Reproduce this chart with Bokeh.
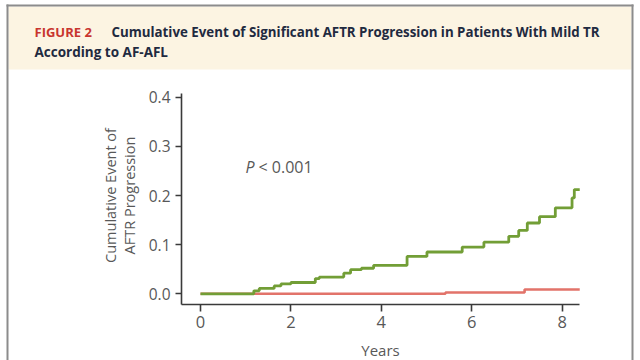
import math
from bokeh.plotting import figure
from bokeh.models import Range1d, FixedTicker, Label, BoxAnnotation
from bokeh.embed import file_html
from bokeh.resources import INLINE

# ---- data ----
green_years = [0, 1.18, 1.30, 1.63, 1.78, 2.00, 2.54, 2.63, 3.17, 3.32, 3.56, 3.83,
               4.57, 5.01, 5.79, 6.27, 6.82, 7.04, 7.23, 7.50, 7.85, 8.22, 8.27, 8.39]
green_cum = [0, 0.006, 0.011, 0.016, 0.020, 0.023, 0.031, 0.034, 0.042, 0.049, 0.052, 0.058,
             0.076, 0.085, 0.095, 0.105, 0.117, 0.129, 0.144, 0.157, 0.175, 0.195, 0.212, 0.212]
red_years = [0, 5.42, 7.17, 8.39]
red_cum = [0, 0.0026, 0.0087, 0.0087]
x_ticks = [0, 2, 4, 6, 8]
y_ticks = [0.0, 0.1, 0.2, 0.3, 0.4]
y_tick_labels = ["0.0", "0.1", "0.2", "0.3", "0.4"]

# ---- layout helpers (canvas pixel -> data) ----
W, H = 640, 360
X0, XS = 200.0, 45.2
Y0, YS = 293.3, 491.5
def dx(px):
    return (px - X0) / XS
def dy(py):
    return (Y0 - py) / YS

AX_LEFT, AX_RIGHT, AX_TOP, AX_BOT = 181, 579, 93, 304

p = figure(width=W, height=H, output_backend="svg", toolbar_location=None,
           x_range=Range1d(dx(0), dx(W)), y_range=Range1d(dy(H), dy(0)),
           min_border_left=0, min_border_right=0, min_border_top=0, min_border_bottom=0)
p.outline_line_color = None
p.background_fill_color = "white"
p.border_fill_color = "white"
p.xgrid.visible = False
p.ygrid.visible = False

TXT = "#585858"
AX = "#3a3a3a"
for ax in (p.xaxis[0], p.yaxis[0]):
    ax.axis_line_color = AX
    ax.axis_line_width = 1.6
    ax.major_tick_line_color = AX
    ax.major_tick_line_width = 1.6
    ax.major_tick_in = 0
    ax.minor_tick_line_color = None
    ax.major_label_text_font = "Open Sans"
    ax.major_label_text_color = TXT
p.xaxis.fixed_location = dy(AX_BOT)
p.xaxis.bounds = (dx(AX_LEFT), dx(AX_RIGHT))
p.xaxis.ticker = FixedTicker(ticks=x_ticks)
p.xaxis.major_tick_out = 7
p.xaxis.major_label_standoff = 4
p.xaxis.major_label_text_font_size = "16.5px"
p.yaxis.fixed_location = dx(AX_LEFT)
p.yaxis.bounds = (dy(AX_BOT), dy(AX_TOP))
p.yaxis.ticker = FixedTicker(ticks=y_ticks)
p.yaxis.major_label_overrides = {t: s for t, s in zip(y_ticks, y_tick_labels)}
p.yaxis.major_tick_out = 6
p.yaxis.major_label_standoff = 5
p.yaxis.major_label_text_font_size = "15.5px"

# ---- header band and frame borders ----
BORDER = "#8c8c8c"
p.add_layout(BoxAnnotation(left=dx(8), right=dx(631), top=dy(6), bottom=dy(69),
                           fill_color="#fcf4e2", fill_alpha=1, line_color=None, level="underlay"))
p.add_layout(BoxAnnotation(left=dx(6), right=dx(8), top=dy(4), bottom=dy(H + 2),
                           fill_color=BORDER, fill_alpha=1, line_color=None))
p.add_layout(BoxAnnotation(left=dx(631), right=dx(633), top=dy(4), bottom=dy(H + 2),
                           fill_color=BORDER, fill_alpha=1, line_color=None))
p.add_layout(BoxAnnotation(left=dx(6), right=dx(633), top=dy(4), bottom=dy(6),
                           fill_color=BORDER, fill_alpha=1, line_color=None))

# ---- curves ----
p.step(red_years, red_cum, mode="after", line_color="#e2736a", line_width=2.6)
p.step(green_years, green_cum, mode="after", line_color="#729e36", line_width=2.8)

# ---- texts ----
HEAD = "#1f2a40"
p.add_layout(Label(x=dx(34), y=dy(31.7), text="FIGURE 2", text_font="Open Sans",
                   text_font_style="bold", text_font_size="13px", text_color="#c8352f",
                   text_baseline="alphabetic"))
p.add_layout(Label(x=dx(111), y=dy(31.7),
                   text="Cumulative Event of Significant AFTR Progression in Patients With Mild TR",
                   text_font="Open Sans", text_font_style="bold", text_font_size="13.3px",
                   text_color=HEAD, text_baseline="alphabetic"))
p.add_layout(Label(x=dx(34), y=dy(51.7), text="According to AF-AFL",
                   text_font="Open Sans", text_font_style="bold", text_font_size="13.5px",
                   text_color=HEAD, text_baseline="alphabetic"))

p.add_layout(Label(x=dx(110), y=dy(195), text="Cumulative Event of", angle=math.pi / 2,
                   text_font="Open Sans", text_font_size="14.5px", text_color=TXT,
                   text_align="center", text_baseline="middle"))
p.add_layout(Label(x=dx(128.5), y=dy(195), text="AFTR Progression", angle=math.pi / 2,
                   text_font="Open Sans", text_font_size="14.5px", text_color=TXT,
                   text_align="center", text_baseline="middle"))
p.add_layout(Label(x=dx(380), y=dy(349.5), text="Years", text_font="Open Sans",
                   text_font_size="15px", text_color=TXT, text_align="center",
                   text_baseline="alphabetic"))

p.add_layout(Label(x=dx(245), y=dy(166.7), text="P", text_font="Open Sans",
                   text_font_style="italic", text_font_size="16px", text_color=TXT,
                   text_baseline="alphabetic"))
p.add_layout(Label(x=dx(258), y=dy(166.7), text="< 0.001", text_font="Open Sans",
                   text_font_size="16px", text_color=TXT, text_baseline="alphabetic"))

open("out.html", "w").write(file_html(p, INLINE))
